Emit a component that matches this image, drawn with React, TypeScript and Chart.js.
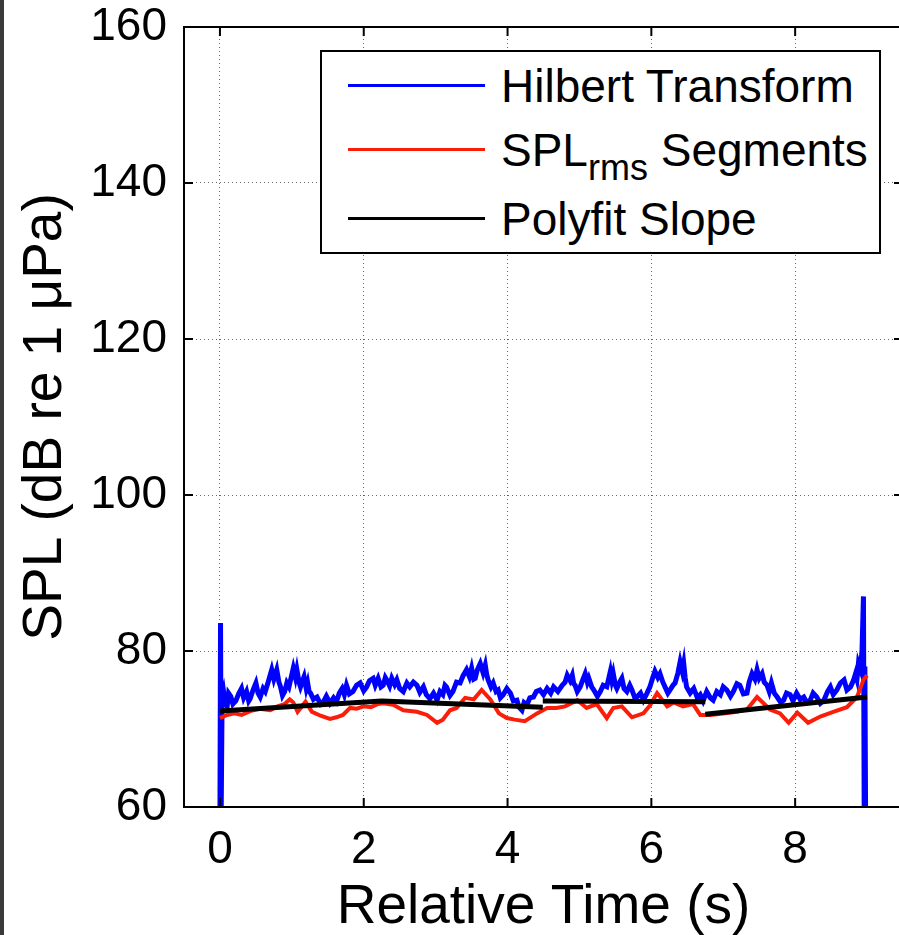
import React, { useEffect, useRef } from "react";
import { Chart, registerables } from "chart.js";

Chart.register(...registerables);

const xTicks = [0, 2, 4, 6, 8];
const yTicks = [60, 80, 100, 120, 140, 160];
const xTitle = "Relative Time (s)";
const yTitle = "SPL (dB re 1 \u03bcPa)";
const legendLabels = ["Hilbert Transform", "SPL", "rms", " Segments", "Polyfit Slope"];

const hilbertT = [0, 0.008, 0.018, 0.03, 0.05, 0.07, 0.10, 0.12, 0.15, 0.18, 0.22, 0.26, 0.30, 0.33, 0.37, 0.40, 0.42, 0.46, 0.50, 0.53, 0.56, 0.60, 0.63, 0.67, 0.72, 0.75, 0.79, 0.82, 0.84, 0.87, 0.90, 0.93, 0.96, 0.99, 1.02, 1.05, 1.07, 1.10, 1.12, 1.15, 1.17, 1.20, 1.22, 1.24, 1.26, 1.30, 1.35, 1.40, 1.44, 1.48, 1.53, 1.58, 1.62, 1.66, 1.70, 1.73, 1.76, 1.80, 1.85, 1.90, 1.95, 2.00, 2.04, 2.08, 2.13, 2.16, 2.20, 2.24, 2.27, 2.30, 2.32, 2.36, 2.39, 2.43, 2.46, 2.50, 2.55, 2.60, 2.64, 2.69, 2.74, 2.78, 2.83, 2.87, 2.92, 2.97, 3.02, 3.06, 3.10, 3.13, 3.15, 3.20, 3.24, 3.29, 3.34, 3.38, 3.43, 3.47, 3.50, 3.53, 3.55, 3.58, 3.62, 3.66, 3.69, 3.71, 3.73, 3.77, 3.80, 3.84, 3.87, 3.90, 3.94, 3.99, 4.04, 4.08, 4.13, 4.16, 4.20, 4.23, 4.27, 4.31, 4.36, 4.40, 4.45, 4.50, 4.55, 4.60, 4.64, 4.70, 4.76, 4.80, 4.83, 4.87, 4.90, 4.92, 4.94, 4.97, 5.01, 5.05, 5.08, 5.11, 5.13, 5.17, 5.20, 5.25, 5.29, 5.33, 5.38, 5.41, 5.43, 5.45, 5.47, 5.50, 5.52, 5.56, 5.59, 5.62, 5.66, 5.70, 5.73, 5.77, 5.80, 5.85, 5.89, 5.94, 5.98, 6.02, 6.05, 6.09, 6.12, 6.16, 6.19, 6.23, 6.26, 6.30, 6.33, 6.37, 6.40, 6.43, 6.45, 6.47, 6.49, 6.54, 6.59, 6.64, 6.68, 6.72, 6.77, 6.82, 6.86, 6.91, 6.96, 7.00, 7.05, 7.10, 7.14, 7.19, 7.23, 7.28, 7.33, 7.36, 7.40, 7.44, 7.47, 7.50, 7.54, 7.57, 7.61, 7.64, 7.67, 7.71, 7.75, 7.80, 7.84, 7.88, 7.93, 7.97, 8.02, 8.07, 8.12, 8.16, 8.21, 8.25, 8.30, 8.35, 8.40, 8.45, 8.49, 8.53, 8.58, 8.63, 8.68, 8.72, 8.77, 8.81, 8.84, 8.86, 8.88, 8.91, 8.93, 8.95, 8.96, 8.97, 8.98];
const hilbertV = [59, 83.6, 60, 74.0, 74.8, 73.4, 72.9, 74.6, 74.2, 73.2, 73.6, 74.5, 75.2, 74.0, 74.8, 73.6, 73.9, 75.0, 75.9, 74.6, 74.1, 75.2, 74.8, 76.0, 77.6, 76.4, 77.6, 76.0, 75.5, 74.3, 74.8, 75.9, 75.4, 76.6, 77.8, 76.6, 77.6, 76.0, 75.4, 76.2, 76.7, 75.2, 75.9, 74.8, 74.6, 73.8, 74.1, 73.2, 73.5, 74.2, 73.3, 74.0, 73.5, 74.6, 75.2, 74.4, 75.6, 74.5, 74.8, 75.6, 75.9, 74.9, 75.4, 76.2, 76.5, 75.6, 76.5, 75.4, 75.6, 76.6, 76.3, 75.5, 76.5, 75.7, 76.3, 75.2, 74.8, 75.9, 75.4, 76.0, 75.6, 74.7, 75.4, 74.4, 73.9, 74.6, 73.7, 74.8, 74.4, 75.6, 75.4, 74.3, 74.8, 76.0, 75.9, 76.8, 77.6, 76.7, 77.8, 76.4, 76.5, 77.6, 78.4, 77.2, 78.2, 77.0, 76.3, 75.4, 75.9, 74.8, 75.0, 74.0, 74.4, 75.2, 74.6, 73.6, 73.7, 72.8, 72.4, 73.4, 73.1, 74.0, 74.1, 74.8, 75.0, 74.4, 75.2, 74.6, 75.4, 74.8, 75.6, 76.0, 76.9, 76.2, 76.9, 75.8, 75.6, 74.8, 75.4, 76.4, 77.1, 76.0, 76.5, 75.4, 75.0, 74.2, 74.8, 75.6, 75.4, 76.6, 77.4, 76.3, 77.1, 75.6, 75.2, 76.0, 76.5, 75.2, 74.8, 75.6, 75.0, 74.0, 74.1, 74.6, 73.7, 74.6, 75.4, 76.6, 77.4, 76.6, 77.1, 76.0, 75.4, 74.6, 75.0, 75.6, 75.9, 77.2, 78.6, 77.4, 78.4, 76.6, 75.4, 74.6, 75.2, 74.0, 74.4, 73.6, 74.8, 74.0, 73.7, 74.8, 74.4, 75.4, 75.0, 74.2, 74.8, 75.8, 75.6, 74.5, 74.6, 76.0, 77.1, 76.4, 77.6, 76.5, 77.1, 76.0, 75.6, 74.8, 75.9, 74.6, 74.1, 73.4, 73.7, 74.6, 74.4, 73.6, 74.6, 73.8, 74.1, 73.4, 73.7, 74.6, 74.1, 73.3, 73.7, 74.8, 75.4, 74.4, 75.0, 75.9, 76.3, 75.0, 75.4, 76.2, 77.1, 76.4, 78.4, 77.6, 80.1, 87.0, 60, 78, 59];

const splT = [0.00, 0.10, 0.20, 0.30, 0.42, 0.55, 0.70, 0.80, 0.90, 0.97, 1.02, 1.08, 1.19, 1.28, 1.40, 1.53, 1.62, 1.71, 1.81, 1.90, 2.00, 2.10, 2.20, 2.27, 2.41, 2.55, 2.74, 2.88, 3.02, 3.10, 3.20, 3.29, 3.41, 3.53, 3.64, 3.76, 3.88, 3.99, 4.10, 4.24, 4.41, 4.55, 4.68, 4.80, 4.97, 5.10, 5.24, 5.38, 5.47, 5.59, 5.73, 5.89, 5.98, 6.08, 6.22, 6.31, 6.44, 6.58, 6.68, 6.82, 7.00, 7.19, 7.33, 7.47, 7.65, 7.79, 7.91, 8.03, 8.18, 8.35, 8.53, 8.72, 8.86, 8.95, 9.00];
const splV = [71.4, 71.8, 72.0, 71.8, 72.3, 72.6, 72.4, 72.9, 73.2, 73.8, 73.4, 72.2, 73.5, 72.2, 71.7, 71.3, 71.5, 71.8, 72.7, 72.6, 72.9, 72.8, 73.2, 73.3, 73.1, 72.4, 72.2, 71.8, 70.8, 71.2, 72.4, 72.7, 74.0, 73.8, 75.0, 73.8, 72.0, 71.4, 71.2, 71.0, 72.0, 72.7, 72.7, 72.9, 73.7, 72.7, 73.2, 71.4, 72.7, 72.9, 71.5, 72.0, 73.0, 74.6, 72.9, 73.4, 72.9, 73.2, 71.8, 71.8, 72.0, 72.2, 72.5, 74.1, 72.5, 72.0, 70.8, 72.1, 70.8, 71.6, 72.2, 72.8, 74.1, 76.3, 76.9];

const polySegT = [[0, 2.25, 4.49], [4.49, 6.75], [6.75, 9.0]];
const polySegV = [[72.3, 73.6, 72.8], [73.6, 73.5], [71.9, 74.1]];

const FONT = "'Liberation Sans', Arial, sans-serif";
const BLUE = "#0000ff";
const RED = "rgb(250,30,10)";
const BLACK = "#000000";

function pairs(t: number[], v: number[]) {
  return t.map((x, i) => ({ x, y: v[i] }));
}

function polyData() {
  const out: { x: number; y: number | null }[] = [];
  polySegT.forEach((seg, s) => {
    if (s > 0) out.push({ x: seg[0], y: null });
    seg.forEach((x, i) => out.push({ x, y: polySegV[s][i] }));
  });
  return out;
}

const framePlugin = {
  id: "frame",
  afterDatasetsDraw(chart: any) {
    const { ctx, chartArea: a, scales } = chart;
    const x = scales.x;
    const y = scales.y;
    const L = 9;
    ctx.save();
    ctx.strokeStyle = "#000";
    ctx.lineWidth = 2;
    ctx.strokeRect(a.left, a.top, a.right - a.left, a.bottom - a.top);
    ctx.beginPath();
    x.ticks.forEach((t: any) => {
      const px = x.getPixelForValue(t.value);
      ctx.moveTo(px, a.bottom);
      ctx.lineTo(px, a.bottom - L);
      ctx.moveTo(px, a.top);
      ctx.lineTo(px, a.top + L);
    });
    y.ticks.forEach((t: any) => {
      const py = y.getPixelForValue(t.value);
      ctx.moveTo(a.left, py);
      ctx.lineTo(a.left + L, py);
      ctx.moveTo(a.right, py);
      ctx.lineTo(a.right - L, py);
    });
    ctx.stroke();
    ctx.restore();
  },
};

export default function App() {
  const ref = useRef<HTMLCanvasElement | null>(null);

  useEffect(() => {
    if (!ref.current) return;
    const chart = new Chart(ref.current, {
      type: "line",
      data: {
        datasets: [
          {
            label: "Polyfit Slope",
            data: polyData(),
            borderColor: BLACK,
            borderWidth: 5,
            pointRadius: 0,
            tension: 0,
            spanGaps: false,
            order: 0,
          },
          {
            label: "SPLrms Segments",
            data: pairs(splT, splV),
            borderColor: RED,
            borderWidth: 4,
            pointRadius: 0,
            tension: 0,
            order: 1,
          },
          {
            label: "Hilbert Transform",
            data: pairs(hilbertT, hilbertV),
            borderColor: BLUE,
            borderWidth: 5,
            pointRadius: 0,
            tension: 0,
            order: 2,
          },
        ],
      },
      options: {
        responsive: false,
        animation: false,
        devicePixelRatio: 1,
        layout: { padding: { top: 27, right: 17, left: 0, bottom: 0 } },
        plugins: { legend: { display: false }, tooltip: { enabled: false } },
        scales: {
          x: {
            type: "linear",
            min: -0.5,
            max: 9.5,
            afterBuildTicks: (s: any) => {
              s.ticks = xTicks.map((v) => ({ value: v }));
            },
            afterFit: (s: any) => {
              s.height = 128;
              s.paddingLeft = 0;
              s.paddingRight = 0;
            },
            grid: { color: "rgba(0,0,0,0.6)", lineWidth: 1, drawTicks: false },
            border: { display: false, dash: [1, 3] },
            ticks: {
              color: "#000",
              padding: 20,
              font: { family: FONT, size: 46, lineHeight: 1 },
              callback: (v: any) => String(v),
              maxRotation: 0,
            },
            title: {
              display: true,
              text: xTitle,
              color: "#000",
              font: { family: FONT, size: 55, lineHeight: 1 },
              padding: { top: 0, bottom: 0 },
            },
          },
          y: {
            type: "linear",
            min: 60,
            max: 160,
            afterBuildTicks: (s: any) => {
              s.ticks = yTicks.map((v) => ({ value: v }));
            },
            afterFit: (s: any) => {
              s.width = 184;
              s.paddingTop = 0;
              s.paddingBottom = 0;
            },
            grid: { color: "rgba(0,0,0,0.6)", lineWidth: 1, drawTicks: false },
            border: { display: false, dash: [1, 3] },
            ticks: {
              color: "#000",
              padding: 17,
              font: { family: FONT, size: 46, lineHeight: 1.1 },
              callback: (v: any) => String(v),
            },
            title: {
              display: true,
              text: yTitle,
              color: "#000",
              font: { family: FONT, size: 55, lineHeight: 1 },
              padding: { top: 18, bottom: 0 },
            },
          },
        },
      },
      plugins: [framePlugin],
    });
    return () => chart.destroy();
  }, []);

  const rowStyle = (center: number): React.CSSProperties => ({
    position: "absolute",
    left: 0,
    top: center - 23,
    height: 46,
    width: "100%",
  });
  const lineStyle = (color: string): React.CSSProperties => ({
    position: "absolute",
    left: 26,
    width: 137,
    top: 21,
    height: 3,
    background: color,
  });
  const textStyle: React.CSSProperties = {
    position: "absolute",
    left: 179,
    top: 0,
    fontFamily: FONT,
    fontSize: 46,
    lineHeight: "46px",
    whiteSpace: "nowrap",
    color: "#000",
  };

  return (
    <div style={{ position: "absolute", left: 0, top: 0, width: 899, height: 935, overflow: "hidden", background: "#fff" }}>
      <canvas ref={ref} width={920} height={935} style={{ position: "absolute", left: 0, top: 0, width: 920, height: 935 }} />
      <div style={{ position: "absolute", left: 0, top: 0, width: 4, height: 935, background: "#3a3a3a" }} />
      <div
        style={{
          position: "absolute",
          left: 320,
          top: 50,
          width: 561,
          height: 204,
          boxSizing: "border-box",
          border: "2px solid #000",
          background: "#fff",
        }}
      >
        <div style={rowStyle(86 - 52)}>
          <div style={lineStyle(BLUE)} />
          <div style={textStyle}>{legendLabels[0]}</div>
        </div>
        <div style={rowStyle(150 - 52)}>
          <div style={lineStyle(RED)} />
          <div style={textStyle}>
            {legendLabels[1]}
            <span style={{ fontSize: 36, position: "relative", top: 14 }}>{legendLabels[2]}</span>
            {legendLabels[3]}
          </div>
        </div>
        <div style={rowStyle(219 - 52)}>
          <div style={lineStyle(BLACK)} />
          <div style={textStyle}>{legendLabels[4]}</div>
        </div>
      </div>
    </div>
  );
}
